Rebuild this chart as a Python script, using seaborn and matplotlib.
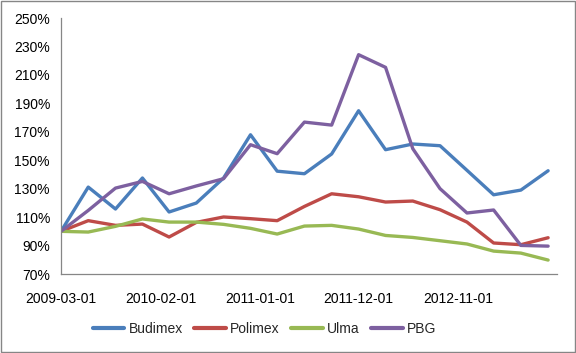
import pandas as pd
import numpy as np
import matplotlib
matplotlib.use("Agg")
import matplotlib.pyplot as plt
import seaborn as sns

dates = pd.date_range("2009-03-01", periods=19, freq="3MS")
budimex = [100, 131.1, 115.7, 137.5, 113.6, 119.9, 137.5, 167.9, 142.3, 140.5,
           154.4, 184.8, 157.4, 161.4, 160.2, 142.9, 125.7, 129.0, 142.6]
polimex = [100, 107.5, 104.2, 105.1, 96.0, 106.3, 110.1, 108.9, 107.5, 117.5,
           126.4, 124.3, 120.6, 121.3, 115.2, 106.5, 91.8, 90.6, 95.5]
ulma = [100, 99.5, 103.5, 108.7, 106.5, 106.5, 104.9, 102.1, 98.1, 103.7,
        104.2, 101.6, 97.1, 95.7, 93.4, 91.1, 86.1, 84.7, 79.8]
pbg = [100, 114.7, 130.4, 135.1, 126.4, 131.9, 137.0, 160.9, 154.6, 176.8,
       174.7, 224.2, 215.3, 158.1, 130.0, 112.9, 115.0, 90.1, 89.6]
series_names = ["Budimex", "Polimex", "Ulma", "PBG"]
tick_dates = ["2009-03-01", "2010-02-01", "2011-01-01", "2011-12-01", "2012-11-01", "2013-10-01"]
tick_labels = ["2009-03-01", "2010-02-01", "2011-01-01", "2011-12-01", "2012-11-01", ""]
yticks = list(range(70, 251, 20))

df = pd.DataFrame({"date": dates, "Budimex": budimex, "Polimex": polimex,
                   "Ulma": ulma, "PBG": pbg})
long = df.melt(id_vars="date", value_vars=series_names, var_name="series", value_name="value")

sns.set_style("white")
plt.rcParams["font.family"] = ["Liberation Sans", "DejaVu Sans"]

colors = ["#4A7EBB", "#BE4B48", "#98B954", "#7D60A0"]
fig = plt.figure(figsize=(5.76, 3.53), dpi=100)
ax = fig.add_axes([61/576, 1 - 274/353, (557-61)/576, (274-18)/353])

sns.lineplot(data=long, x="date", y="value", hue="series", hue_order=series_names,
             palette=colors, linewidth=2.4, ax=ax, legend=True)

ax.set_ylim(70, 250)
ax.set_yticks(yticks)
ax.set_yticklabels([f"{v}%" for v in yticks])
ax.set_xlim(pd.Timestamp("2009-03-01"), pd.Timestamp("2013-10-01"))
ax.set_xticks([pd.Timestamp(d) for d in tick_dates])
ax.set_xticklabels(tick_labels)
ax.set_xlabel("")
ax.set_ylabel("")
for side in ["top", "right"]:
    ax.spines[side].set_visible(False)
for side in ["left", "bottom"]:
    ax.spines[side].set_color("#868686")
    ax.spines[side].set_linewidth(0.9)
ax.tick_params(axis="both", which="major", length=5, width=0.9, color="#868686",
               labelsize=10, labelcolor="black", direction="out")
ax.tick_params(axis="x", pad=8)
ax.tick_params(axis="y", pad=3)

leg = ax.legend(loc="center", bbox_to_anchor=(0.41, -0.215), ncol=4, frameon=False,
                fontsize=10, handlelength=2.3, handletextpad=0.3, columnspacing=0.8)
for line in leg.get_lines():
    line.set_linewidth(3)

fig.patches.append(plt.Rectangle((0.001, 0.002), 0.997, 0.995, transform=fig.transFigure,
                                 fill=False, edgecolor="#868686", linewidth=1))
fig.savefig("out.png", dpi=100, facecolor="white")
